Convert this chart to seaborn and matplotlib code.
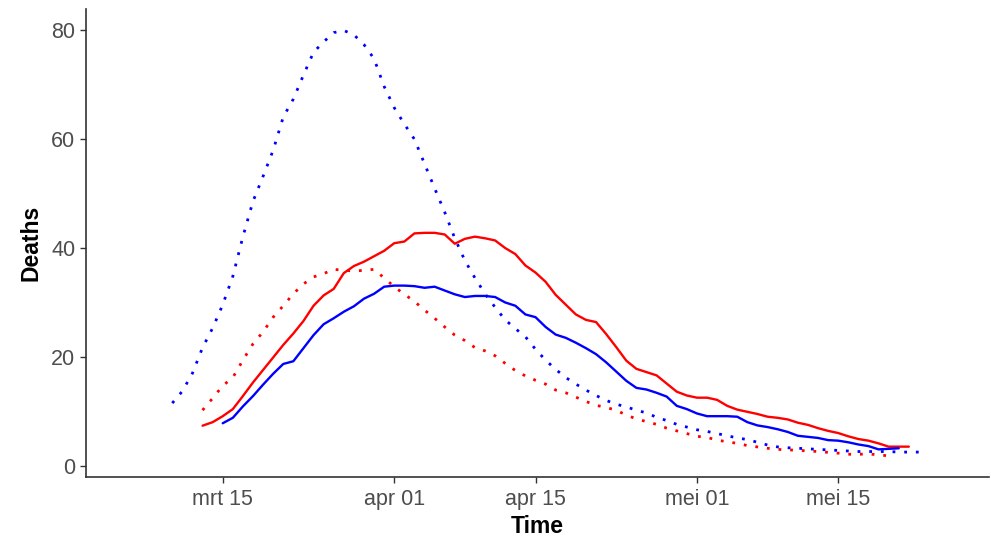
import pandas as pd
import matplotlib
matplotlib.use('Agg')
import matplotlib.pyplot as plt
import seaborn as sns

# daily values
observed_red_start = '2020-03-13'
observed_red = [7.35, 8.0, 9.1, 10.4, 12.8, 15.3, 17.6, 19.9, 22.2, 24.3,
                26.6, 29.4, 31.3, 32.5, 35.4, 36.7, 37.5, 38.5, 39.5, 40.9,
                41.2, 42.7, 42.8, 42.8, 42.5, 40.8, 41.7, 42.1, 41.8, 41.4,
                40.0, 38.9, 36.8, 35.5, 33.8, 31.4, 29.6, 27.8, 26.8, 26.4,
                24.2, 21.8, 19.3, 17.8, 17.2, 16.6, 15.1, 13.6, 12.9, 12.5,
                12.5, 12.1, 11.0, 10.3, 9.9, 9.5, 9.0, 8.8, 8.5, 7.9,
                7.5, 6.9, 6.4, 6.0, 5.4, 4.9, 4.6, 4.1, 3.5, 3.5, 3.5]

observed_blue_start = '2020-03-15'
observed_blue = [7.8, 8.8, 10.9, 12.8, 14.9, 16.9, 18.7, 19.2, 21.6, 24.0,
                 26.0, 27.1, 28.3, 29.3, 30.7, 31.6, 32.9, 33.1, 33.1, 33.0,
                 32.7, 32.9, 32.2, 31.5, 31.0, 31.2, 31.2, 31.0, 30.0, 29.4,
                 27.8, 27.3, 25.5, 24.1, 23.5, 22.6, 21.6, 20.5, 19.0, 17.3,
                 15.6, 14.3, 14.0, 13.4, 12.7, 11.0, 10.4, 9.6, 9.1, 9.1,
                 9.1, 9.0, 8.0, 7.4, 7.1, 6.7, 6.2, 5.5, 5.3, 5.1,
                 4.7, 4.6, 4.3, 3.9, 3.6, 3.0, 3.1, 3.2]

model_red_start = '2020-03-13'
model_red = [10.2, 12.4, 14.7, 16.2, 19.4, 22.4, 24.6, 27.3, 29.4, 31.6,
             33.4, 34.7, 35.3, 36.1, 35.9, 35.8, 35.9, 36.1, 34.5, 32.9,
             31.5, 30.2, 28.6, 27.1, 25.5, 24.0, 23.0, 21.7, 21.1, 20.2,
             18.8, 17.5, 16.5, 15.7, 15.0, 13.9, 13.4, 12.6, 11.8, 11.1,
             10.7, 10.2, 9.3, 8.6, 8.1, 7.6, 6.9, 6.4, 5.9, 5.4,
             5.2, 4.7, 4.4, 4.1, 3.7, 3.45, 3.2, 3.0, 2.9, 2.85,
             2.7, 2.6, 2.45, 2.3, 2.1, 2.1, 2.15, 2.0, 1.8]

model_blue_start = '2020-03-10'
model_blue = [11.5, 13.7, 17.0, 21.7, 25.3, 29.6, 34.8, 42.1, 48.6, 53.2,
              58.0, 64.1, 67.4, 71.8, 76.0, 77.9, 79.6, 80.0, 79.2, 77.4,
              74.8, 69.7, 65.8, 62.8, 60.0, 55.5, 51.0, 46.6, 41.8, 37.7,
              34.5, 31.6, 29.1, 26.8, 25.2, 23.7, 21.4, 19.4, 17.7, 16.2,
              15.0, 13.9, 12.9, 12.0, 11.3, 10.8, 10.2, 9.7, 8.9, 8.3,
              7.6, 7.1, 6.6, 6.3, 5.9, 5.5, 5.1, 4.8, 4.3, 3.8,
              3.45, 3.3, 3.2, 3.1, 3.0, 2.9, 2.8, 2.7, 2.6, 2.6,
              2.6, 2.6, 2.5, 2.5, 2.5]

tick_dates = ['2020-03-15', '2020-04-01', '2020-04-15', '2020-05-01', '2020-05-15']
tick_labels = ['mrt 15', 'apr 01', 'apr 15', 'mei 01', 'mei 15']
y_ticks = [0, 20, 40, 60, 80]

series = [
    ('obs_red', 'red', 'solid', observed_red_start, observed_red),
    ('obs_blue', 'blue', 'solid', observed_blue_start, observed_blue),
    ('mod_red', 'red', 'dotted', model_red_start, model_red),
    ('mod_blue', 'blue', 'dotted', model_blue_start, model_blue),
]
frames = []
for name, colour, kind, start, vals in series:
    frames.append(pd.DataFrame({
        'Time': pd.date_range(start, periods=len(vals), freq='D'),
        'Deaths': vals,
        'series': name,
        'kind': kind,
    }))
df = pd.concat(frames, ignore_index=True)

sns.set_style('white')
plt.rcParams['font.family'] = ['Liberation Sans', 'DejaVu Sans']

fig = plt.figure(figsize=(9.91, 5.41), dpi=100)
ax = fig.add_axes([0.0871, 0.1183, 0.911, 0.8651])

for name, colour, kind, start, vals in series:
    sub = df[df['series'] == name]
    sns.lineplot(data=sub, x='Time', y='Deaths', color=colour, ax=ax,
                 linewidth=2.0 if kind == 'dotted' else 1.7,
                 legend=False)
    line = ax.get_lines()[-1]
    if kind == 'dotted':
        line.set_dashes((1, 3.2))

ax.set_xlim(pd.Timestamp('2020-03-01 11:30'), pd.Timestamp('2020-05-29 23:00'))
ax.set_ylim(-2.08, 83.95)
ax.set_xticks(pd.to_datetime(tick_dates))
ax.set_xticklabels(tick_labels)
ax.set_yticks(y_ticks)

for side in ['top', 'right']:
    ax.spines[side].set_visible(False)
for side in ['left', 'bottom']:
    ax.spines[side].set_color('#333333')
    ax.spines[side].set_linewidth(1.2)
ax.tick_params(axis='both', which='both', length=4, width=1.0, color='#333333',
               labelsize=15.5, labelcolor='#4D4D4D', bottom=True, left=True)
ax.tick_params(axis='x', pad=5)
ax.tick_params(axis='y', pad=4)

ax.set_xlabel('Time', fontsize=16.5, fontweight='bold', color='black', labelpad=3)
ax.set_ylabel('Deaths', fontsize=16.5, fontweight='bold', color='black', labelpad=6)

fig.savefig('out.png', dpi=100)
